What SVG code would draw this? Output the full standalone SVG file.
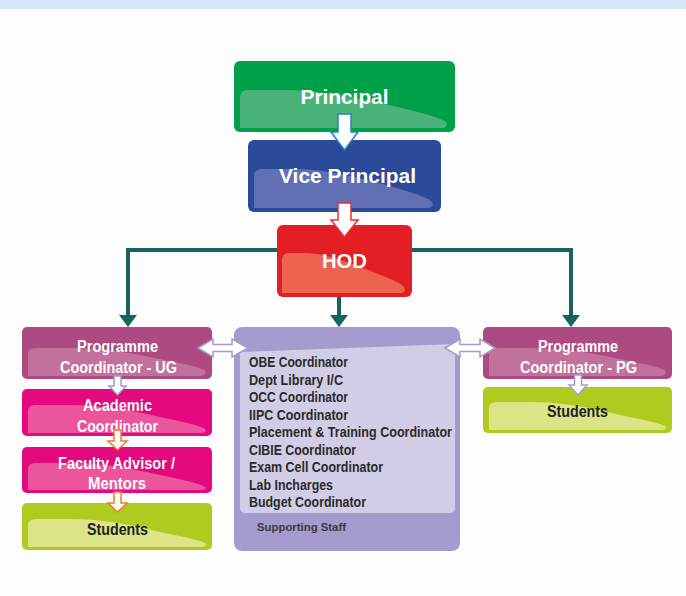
<svg xmlns="http://www.w3.org/2000/svg" width="686" height="596" viewBox="0 0 686 596">
<defs>
<style>
.t{font-family:"Liberation Sans",Arial,sans-serif;font-weight:bold;fill:#fff;text-anchor:middle}
.big{font-size:20px}
.mid{font-size:16px}
.dk{fill:#222}
.lst{font-family:"Liberation Sans",Arial,sans-serif;font-weight:bold;font-size:14.5px;fill:#2a2a2a}
.conn{fill:none;stroke:#17635f;stroke-width:4}
.ba{fill:#fff;stroke-width:1.5;stroke-linejoin:miter}
.lav{stroke:#a59bd0}
.org{stroke:#f07a2a}
</style>
<marker id="tip" markerUnits="userSpaceOnUse" markerWidth="14" markerHeight="20" viewBox="0 -10 14 20" refX="0" refY="0" orient="auto">
<path d="M0,-9 L12,0 L0,9 Z" fill="#17635f"/>
</marker>
</defs>
<rect x="0" y="0" width="686" height="596" fill="#fdfdfd"/>
<rect x="0" y="0" width="686" height="9" fill="#d2e8f5"/>

<g id="connectors">
<path class="conn" d="M278,250 H128 V315" marker-end="url(#tip)"/>
<path class="conn" d="M411,250 H571 V315" marker-end="url(#tip)"/>
<path class="conn" d="M339,296 V315" marker-end="url(#tip)"/>
</g>

<g id="principal">
<rect x="234" y="61" width="221" height="71" rx="6" fill="#00a04b"/>
<path d="M240,128 V97 Q240,90 248,90 H285 Q320,90 380,103 Q430,114 443,120 Q450,124 444,128 Z" fill="#4ab379"/>
<text class="t big" x="344.5" y="104" textLength="88" lengthAdjust="spacingAndGlyphs">Principal</text>
</g>

<g id="vice-principal">
<rect x="248" y="140" width="193" height="72" rx="6" fill="#2b4a9a"/>
<path d="M254,208 V176 Q254,169 262,169 H295 Q325,169 375,182 Q420,194 430,200 Q436,205 429,208 Z" fill="#6170b4"/>
<text class="t big" x="347.5" y="183" textLength="137" lengthAdjust="spacingAndGlyphs">Vice Principal</text>
</g>

<g id="hod">
<rect x="277" y="225" width="135" height="72" rx="6" fill="#e31e25"/>
<path d="M282,293 V260 Q282,253 290,253 H305 Q325,253 360,267 Q395,280 402,285 Q408,291 401,293 Z" fill="#ec6450"/>
<text class="t big" x="344.5" y="268" textLength="45" lengthAdjust="spacingAndGlyphs">HOD</text>
</g>

<g id="pc-ug">
<rect x="22" y="327" width="190" height="52" rx="5" fill="#ad4a82"/>
<path d="M28,376 V354 Q28,348 36,348 H70 Q110,348 160,359 Q200,367 205,370 Q208,375 200,376 Z" fill="#c2719c"/>
<text class="t mid" x="117.5" y="351.5" textLength="81" lengthAdjust="spacingAndGlyphs">Programme</text>
<text class="t mid" x="118.5" y="372.5" textLength="117" lengthAdjust="spacingAndGlyphs">Coordinator - UG</text>
</g>

<g id="academic">
<rect x="22" y="389" width="190" height="47" rx="5" fill="#e4097e"/>
<path d="M28,433 V411 Q28,405 36,405 H70 Q110,405 160,417 Q200,425 205,429 Q208,433 200,433 Z" fill="#ea559b"/>
<text class="t mid" x="117.5" y="411" textLength="69" lengthAdjust="spacingAndGlyphs">Academic</text>
<text class="t mid" x="117.5" y="432" textLength="81" lengthAdjust="spacingAndGlyphs">Coordinator</text>
</g>

<g id="faculty">
<rect x="22" y="447" width="190" height="46" rx="5" fill="#e4097e"/>
<path d="M28,490 V469 Q28,463 36,463 H70 Q110,463 160,475 Q200,483 205,487 Q208,490 200,490 Z" fill="#ea559b"/>
<text class="t mid" x="116.5" y="469" textLength="117" lengthAdjust="spacingAndGlyphs">Faculty Advisor /</text>
<text class="t mid" x="117" y="489" textLength="58" lengthAdjust="spacingAndGlyphs">Mentors</text>
</g>

<g id="students-ug">
<rect x="22" y="503" width="190" height="47" rx="5" fill="#afcb1f"/>
<path d="M28,547 V525 Q28,519 36,519 H70 Q110,519 160,532 Q200,540 205,543 Q208,547 200,547 Z" fill="#dbe487"/>
<text class="t mid dk" x="117.5" y="535" textLength="61" lengthAdjust="spacingAndGlyphs">Students</text>
</g>

<g id="supporting">
<rect x="234" y="327" width="226" height="224" rx="8" fill="#a69bce"/>
<path d="M240,352 L455,344 V508 Q455,513 449,513 H246 Q240,513 240,508 Z" fill="#d2cde6"/>
<text class="lst" x="249" y="367" textLength="99" lengthAdjust="spacingAndGlyphs">OBE Coordinator</text>
<text class="lst" x="249" y="384.5" textLength="94" lengthAdjust="spacingAndGlyphs">Dept Library I/C</text>
<text class="lst" x="249" y="402" textLength="99" lengthAdjust="spacingAndGlyphs">OCC Coordinator</text>
<text class="lst" x="249" y="419.5" textLength="99" lengthAdjust="spacingAndGlyphs">IIPC Coordinator</text>
<text class="lst" x="249" y="437" textLength="203" lengthAdjust="spacingAndGlyphs">Placement &amp; Training Coordinator</text>
<text class="lst" x="249" y="454.5" textLength="107" lengthAdjust="spacingAndGlyphs">CIBIE Coordinator</text>
<text class="lst" x="249" y="472" textLength="134" lengthAdjust="spacingAndGlyphs">Exam Cell Coordinator</text>
<text class="lst" x="249" y="489.5" textLength="84" lengthAdjust="spacingAndGlyphs">Lab Incharges</text>
<text class="lst" x="249" y="507" textLength="117" lengthAdjust="spacingAndGlyphs">Budget Coordinator</text>
<text x="257" y="531" font-family="Liberation Sans, Arial, sans-serif" font-weight="bold" font-size="11" fill="#3a3a3a" textLength="89" lengthAdjust="spacingAndGlyphs">Supporting Staff</text>
</g>

<g id="pc-pg">
<rect x="483" y="327" width="189" height="52" rx="5" fill="#ad4a82"/>
<path d="M489,376 V354 Q489,348 497,348 H530 Q570,348 620,359 Q660,367 665,370 Q668,375 660,376 Z" fill="#c2719c"/>
<text class="t mid" x="578" y="351.5" textLength="80" lengthAdjust="spacingAndGlyphs">Programme</text>
<text class="t mid" x="578.5" y="372.5" textLength="117" lengthAdjust="spacingAndGlyphs">Coordinator - PG</text>
</g>

<g id="students-pg">
<rect x="483" y="387" width="189" height="46" rx="5" fill="#afcb1f"/>
<path d="M489,430 V408 Q489,402 497,402 H530 Q570,402 620,415 Q660,423 665,426 Q668,430 660,430 Z" fill="#dbe487"/>
<text class="t mid dk" x="577.5" y="417" textLength="61" lengthAdjust="spacingAndGlyphs">Students</text>
</g>

<g id="block-arrows">
<path class="ba" stroke="#2a7fc1" d="M338,114 H351 V132 H358 L344.5,150 L331,132 H338 Z"/>
<path class="ba" stroke="#e8312f" d="M338,203 H351 V220 H358 L344.5,237 L331,220 H338 Z"/>
<path class="ba lav" d="M114,376 H121 V386 H126 L117.5,395 L109,386 H114 Z"/>
<path class="ba lav" d="M574.5,375 H581.5 V385 H587 L578,395 L569,385 H574.5 Z"/>
<path class="ba org" d="M114,430 H121 V441 H127 L117.5,450 L108,441 H114 Z"/>
<path class="ba org" d="M114,492 H121 V503 H127 L117.5,512 L108,503 H114 Z"/>
<path class="ba lav" d="M198,348 L213,339 V344.5 H232 V339 L248,348 L232,357 V351.5 H213 V357 Z"/>
<path class="ba lav" d="M445,348 L460,339 V344.5 H480 V339 L495,348 L480,357 V351.5 H460 V357 Z"/>
</g>
</svg>
